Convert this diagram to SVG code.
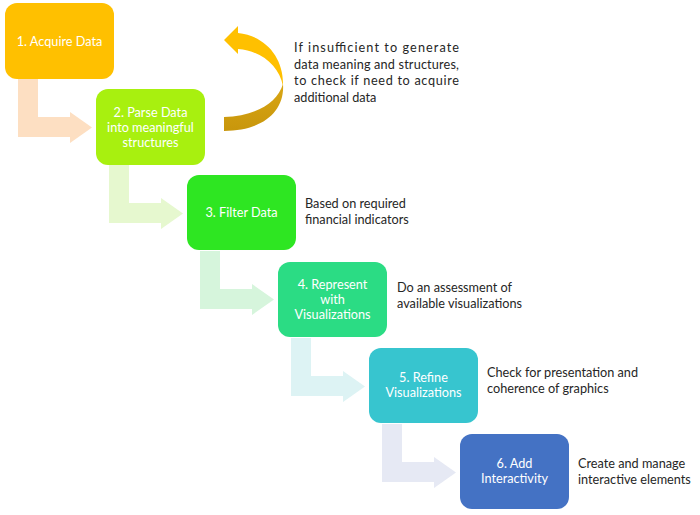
<svg xmlns="http://www.w3.org/2000/svg" width="700" height="515" viewBox="0 0 700 515">
<defs>
<style>
.box{stroke:none}
.lbl{font-family:Lato,"Liberation Sans",sans-serif;font-size:12.7px;fill:#ffffff;text-anchor:middle}
.desc{font-family:Lato,"Liberation Sans",sans-serif;font-size:12.7px;fill:#262626}
</style>
<linearGradient id="dark" x1="0" y1="0" x2="0" y2="1">
<stop offset="0" stop-color="#D9A614"/>
<stop offset="1" stop-color="#C8960C"/>
</linearGradient>
<path id="bent" d="M13,76 L33,76 L33,114 L65,114 L65,109 L87,124.5 L65,140 L65,134 L13,134 Z"/>
</defs>
<rect width="700" height="515" fill="#ffffff"/>
<g id="connectors">
<use href="#bent" x="5" y="3" fill="#FDDFC2"/>
<use href="#bent" x="96" y="89" fill="#E6F8CF"/>
<use href="#bent" x="187" y="175" fill="#D6F5DC"/>
<use href="#bent" x="278" y="262" fill="#DDF3F4"/>
<use href="#bent" x="369" y="348" fill="#E6E9F4"/>
<g id="loop-arrow">
<path d="M224,117 C254,116 277,104 283,84 C285,112 262,131 224,131 Z" fill="url(#dark)"/>
<path d="M238,26 L238,33 C266,36 284,58 283,86 C279,66 262,51 238,49 L238,54 L224,40 Z" fill="#FFC000"/>
</g>
</g>
<g id="n1">
<rect class="box" x="5" y="3" width="109" height="76" rx="12" fill="#FFC000"/>
<text class="lbl" x="59.5" y="45.5">1. Acquire Data</text>
</g>
<g id="n2">
<rect class="box" x="96" y="89" width="109" height="76" rx="12" fill="#A8F00F"/>
<text class="lbl" x="150.5" y="116.5">2. Parse Data</text>
<text class="lbl" x="150.5" y="131.5">into meaningful</text>
<text class="lbl" x="150.5" y="146.5">structures</text>
</g>
<g id="n3">
<rect class="box" x="187" y="175" width="109" height="75" rx="12" fill="#2EE622"/>
<text class="lbl" x="241.5" y="217">3. Filter Data</text>
</g>
<g id="n4">
<rect class="box" x="278" y="262" width="109" height="75" rx="12" fill="#2BDC84"/>
<text class="lbl" x="332.5" y="288.5">4. Represent</text>
<text class="lbl" x="332.5" y="303.5">with</text>
<text class="lbl" x="332.5" y="318.5">Visualizations</text>
</g>
<g id="n5">
<rect class="box" x="369" y="348" width="109" height="75" rx="12" fill="#37C5CF"/>
<text class="lbl" x="423.5" y="382">5. Refine</text>
<text class="lbl" x="423.5" y="397">Visualizations</text>
</g>
<g id="n6">
<rect class="box" x="460" y="434" width="109" height="75" rx="12" fill="#4472C4"/>
<text class="lbl" x="514.5" y="467.5">6. Add</text>
<text class="lbl" x="514.5" y="483">Interactivity</text>
</g>
<g id="notes">
<text class="desc" x="294" y="52" textLength="165" lengthAdjust="spacing">If insufficient to generate</text>
<text class="desc" x="294" y="68.5" textLength="165" lengthAdjust="spacing">data meaning and structures,</text>
<text class="desc" x="294" y="85" textLength="165" lengthAdjust="spacing">to check if need to acquire</text>
<text class="desc" x="294" y="101.5">additional data</text>
<text class="desc" x="305" y="208">Based on required</text>
<text class="desc" x="305" y="224">financial indicators</text>
<text class="desc" x="397" y="292">Do an assessment of</text>
<text class="desc" x="397" y="308">available visualizations</text>
<text class="desc" x="487" y="376.5">Check for presentation and</text>
<text class="desc" x="487" y="392.5">coherence of graphics</text>
<text class="desc" x="578" y="467.5">Create and manage</text>
<text class="desc" x="578" y="483.5">interactive elements</text>
</g>
</svg>
